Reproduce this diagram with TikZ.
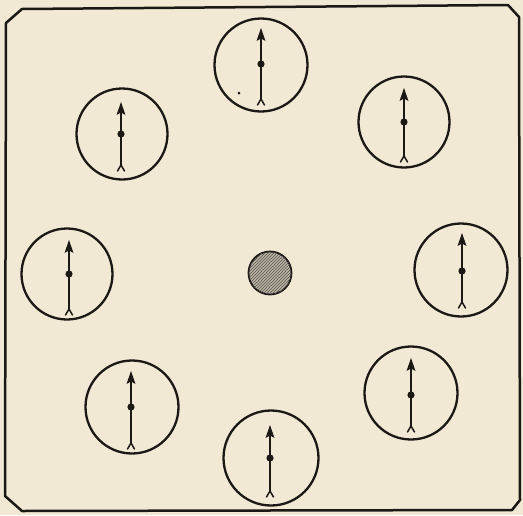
\documentclass[tikz,border=0pt]{standalone}
\usetikzlibrary{patterns}
\definecolor{paper}{RGB}{241,233,212}
\definecolor{ink}{RGB}{28,24,22}
\begin{document}
\begin{tikzpicture}[x=1pt,y=-1pt,
  dial/.style={circle,draw=ink,line width=2.3pt,inner sep=0pt},
  shaft/.style={draw=ink,line width=2pt,line cap=round},
  frameline/.style={draw=ink,line width=2.5pt,line join=round}]
\fill[paper] (0,0) rectangle (523,515);
\useasboundingbox (0,0) rectangle (523,515);
% frame
\draw[frameline] (22,9) -- (508,5) -- (519,17) -- (520,500) -- (512,510) -- (22,511) -- (5,496) -- (6,23) -- cycle;
% centre disc
\node[circle,draw=ink,line width=1.8pt,minimum size=43pt,inner sep=0pt,fill=ink!25!paper,
  postaction={pattern=north east lines,pattern color=ink!75}] (c) at (270,273) {};
% dials: name / centre / diameter / needle x / tip y / dot y / bottom y
\foreach \n/\cx/\cy/\d/\nx/\ty/\dy/\by in {
  d1/261/65/93/261/28/64/105,
  d2/122/134/91/121/102/134/171,
  d3/404/122/91/404/88/122/162,
  d4/67/274/91/69/240/274/315,
  d5/461/270/93/462/233/271/308,
  d6/411/393/93/411/358/395/432,
  d7/132/407/93/131/371/407/449,
  d8/271/458/95/270/425/458/497}{
  \node[dial,minimum size=\d pt] (\n) at (\cx,\cy) {};
  \coordinate (\n-tip) at (\nx,\ty);
  \coordinate (\n-dot) at (\nx,\dy);
  \coordinate (\n-fork) at (\nx,\by-6);
  \draw[shaft] ([yshift=-10]\n-tip) -- (\n-fork);
  \fill[ink] (\n-tip) -- ++(-4.5,13) -- ++(4.5,-2.5) -- ++(4.5,2.5) -- cycle;
  \fill[ink] (\n-dot) circle (3.6);
  \draw[shaft,line width=1.5pt] (\n-fork) -- ++(-3.5,6);
  \draw[shaft,line width=1.5pt] (\n-fork) -- ++(3.5,6);
}
\fill[ink] (239,93) circle (1.5);
\end{tikzpicture}
\end{document}
